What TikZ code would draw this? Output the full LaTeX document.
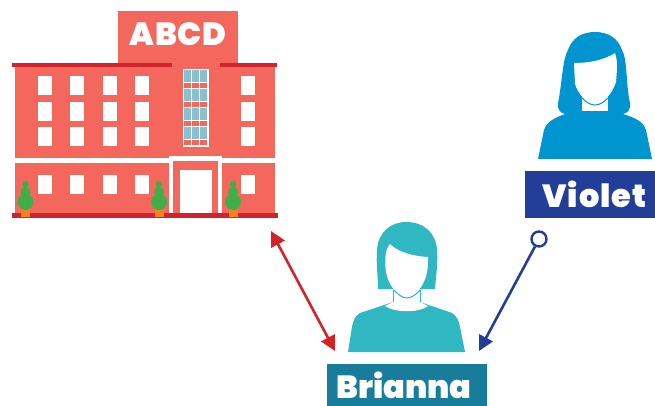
\documentclass[tikz,border=0pt]{standalone}
\usepackage{fontspec}
\newfontfamily\namefont{Poppins Black}
\usetikzlibrary{arrows.meta}

\definecolor{wall}{HTML}{F4675C}
\definecolor{roof}{HTML}{D2232A}
\definecolor{glass}{HTML}{8AC0D0}
\definecolor{leaf}{HTML}{3FAE49}
\definecolor{pot}{HTML}{F58220}
\definecolor{violetblue}{HTML}{0095D0}
\definecolor{violetbox}{HTML}{233E99}
\definecolor{briannateal}{HTML}{2FB7C2}
\definecolor{briannabox}{HTML}{177D9B}

\tikzset{
  namebox/.style={inner sep=0pt, text=white, font=\fontsize{32}{32}\namefont},
  link/.style={line width=2.6pt, {Triangle[length=15pt,width=15pt]}-{Triangle[length=15pt,width=15pt]}}
}

\begin{document}
\begin{tikzpicture}[x=1pt,y=-1pt]
  \useasboundingbox (0,0) rectangle (655,406);

  % Tower and walls
  \fill[wall] (118,11) rectangle (238,67);
  \fill[wall] (15,67) rectangle (275,158);
  \fill[wall] (15,163) rectangle (275,213);

  % Roof and ground lines
  \fill[roof] (12,63) rectangle (172,67);
  \fill[roof] (220,63) rectangle (277,67);
  \fill[roof] (12,213) rectangle (278,218);

  % Windows
  \foreach \wx in {38,70,103,135,241} {
    \foreach \wy in {76,102,127,175}
      \fill[white] (\wx,\wy) rectangle +(14,19);
  }

  % Tall window
  \fill[white] (183,69) rectangle (208.5,147);
  \foreach \gy in {0,1,2,3} {
    \foreach \gx in {184,192,200} {
      \fill[glass] (\gx,70+19*\gy) rectangle +(7,12.5);
      \fill[wall] (\gx,83.5+19*\gy) rectangle +(7,4.5);
    }
  }

  % Door
  \fill[white] (169,156) rectangle (222,213);
  \fill[wall] (173,161) rectangle (218,213);
  \fill[white] (180,170) rectangle (212,213);

  % Plants
  \foreach \px in {25.5,159,233} {
    \fill[pot] (\px-4.5,208) rectangle (\px+4.5,217);
    \fill[leaf] (\px,202) circle (8);
    \fill[leaf] (\px,192) circle (5);
    \fill[leaf] (\px,184) circle (3.3);
  }

  % Sign
  \node[namebox] (sign) at (178,34.5) {\addfontfeature{LetterSpace=2}ABCD};

  % Violet
  \fill[violetblue] (565,114) .. controls (555,111) and (558,104) .. (559,98)
    .. controls (562,80) and (563,58) .. (568,50)
    .. controls (572,38) and (582,32) .. (595,32)
    .. controls (608,32) and (618,38) .. (622,50)
    .. controls (627,58) and (626,80) .. (629,98)
    .. controls (630,104) and (633,111) .. (623,114)
    .. controls (635,118) and (643,121) .. (646,130) -- (652,159) -- (538,159) -- (544,130)
    .. controls (547,121) and (555,118) .. (565,114) -- cycle;
  \fill[white] (582,96) rectangle (608,111);
  \fill[white] (574,63) .. controls (590,63) and (604,60) .. (615,53)
    .. controls (618,62) and (617,70) .. (616,82)
    .. controls (612,94) and (603,104) .. (595,104)
    .. controls (587,104) and (578,94) .. (575,84) -- cycle;
  \draw[violetblue, line width=1pt] (582,98) .. controls (587,103) and (591,105) .. (595,105)
    .. controls (599,105) and (603,103) .. (608,98);
  \node[fill=violetbox, minimum width=130pt, minimum height=47pt, inner sep=0pt] (violetlabel) at (590,194.5) {};
  \node[namebox] (violetname) at (594.5,194.5) {\addfontfeature{LetterSpace=3}Violet};

  % Brianna
  \fill[briannateal] (393,302) -- (360,313) .. controls (355,316) and (353,321) .. (352,327)
    -- (348,352) -- (465,352) -- (460,327) .. controls (459,321) and (457,316) .. (452,313)
    -- (420,302) -- cycle;
  \fill[briannateal] (378,289) .. controls (378,275) and (376,265) .. (377,250)
    .. controls (378,233) and (390,222) .. (406,222)
    .. controls (424,222) and (436,233) .. (437,250)
    .. controls (438,265) and (436,275) .. (435,289) -- cycle;
  \fill[white] (393,290) -- (393,302) -- (385,306) .. controls (395,313) and (419,313) .. (428,306)
    -- (420,302) -- (420,290) -- cycle;
  \draw[briannateal, line width=1pt] (393,290) -- (393,302) (420,290) -- (420,302);
  \fill[white] (390,244) .. controls (398,252) and (412,256) .. (428,257)
    .. controls (428,264) and (428,268) .. (427,272)
    .. controls (425,285) and (415,297) .. (407,297)
    .. controls (398,297) and (388,285) .. (386,272)
    .. controls (385,265) and (384,250) .. (390,244) -- cycle;
  \draw[briannateal, line width=1pt] (394,290) .. controls (398,295) and (403,298) .. (407,298)
    .. controls (411,298) and (416,295) .. (420,290);
  \node[fill=briannabox, minimum width=160pt, minimum height=42pt, inner sep=0pt] (briannalabel) at (407,385) {};
  \node[namebox] (briannaname) at (404,385) {Brianna};

  % Connectors
  \coordinate (schoolend) at (271,231);
  \coordinate (briannaleft) at (335,351);
  \coordinate (briannaright) at (479,351);
  \node[circle, draw=violetbox, line width=2.4pt, fill=white, minimum size=15pt, inner sep=0pt] (violetdot) at (539,239) {};

  \draw[link, roof] (schoolend) -- (briannaleft);
  \draw[line width=2.6pt, -{Triangle[length=15pt,width=15pt]}, violetbox] (violetdot) -- (briannaright);

\end{tikzpicture}
\end{document}
